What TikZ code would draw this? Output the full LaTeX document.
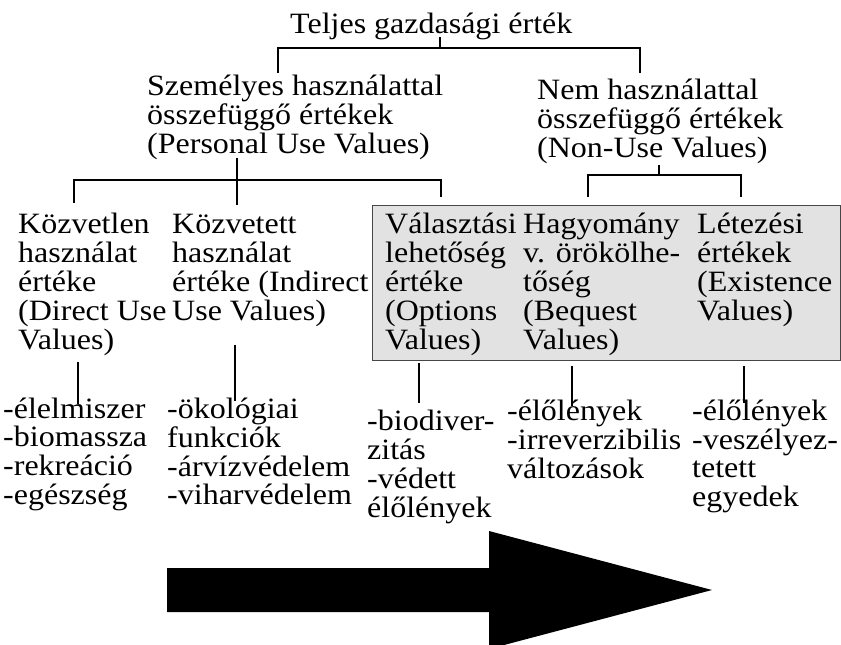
\documentclass[tikz,border=0pt]{standalone}
\usepackage{fontspec}
\setmainfont{Liberation Serif}[FakeStretch=1.085]
\newcommand\mlines[1]{\begin{tabular}[t]{@{}l@{}}#1\end{tabular}}
\definecolor{boxfill}{RGB}{226,226,226}
\definecolor{boxline}{RGB}{70,70,70}
\begin{document}
\begin{tikzpicture}[x=1pt,y=-1pt,
  txt/.style={font=\fontsize{29.5}{#1}\selectfont, inner sep=0pt, anchor=base west},
  txt/.default=28.5,
  conn/.style={line width=1.4pt, black},
  greybox/.style={draw=boxline, fill=boxfill, line width=1.3pt, anchor=north west, inner sep=0pt}]
\useasboundingbox (0,0) rectangle (841,645);
\fill[white] (0,0) rectangle (841,645);

% grey box
\node[greybox, minimum width=468pt, minimum height=155pt] (box) at (372,205) {};

% texts
\node[txt] (title) at (290,33) {Teljes gazdasági érték};
\node[txt=28] (pers) at (147,95) {\mlines{Személyes használattal\\összefüggő értékek\\(Personal Use Values)}};
\node[txt=29] (nonuse) at (537,99) {\mlines{Nem használattal\\összefüggő értékek\\(Non-Use Values)}};

\node[txt] (direct) at (18,233) {\mlines{Közvetlen\\használat\\értéke\\(Direct Use\\Values)}};
\node[txt] (indirect) at (172,233) {\mlines{Közvetett\\használat\\értéke (Indirect\\Use Values)}};
\node[txt] (option) at (385,233) {\mlines{Választási\\lehetőség\\értéke\\(Options\\Values)}};
\node[txt] (bequest) at (523,233) {\mlines{Hagyomány\\v. örökölhe-\\tőség\\(Bequest\\Values)}};
\node[txt] (exist) at (697,233) {\mlines{Létezési\\értékek\\(Existence\\Values)}};

\node[txt=28] (listA) at (3,418) {\mlines{-élelmiszer\\-biomassza\\-rekreáció\\-egészség}};
\node[txt=28] (listB) at (167,418) {\mlines{-ökológiai\\funkciók\\-árvízvédelem\\-viharvédelem}};
\node[txt=28.5] (listC) at (367,430) {\mlines{-biodiver-\\zitás\\-védett\\élőlények}};
\node[txt=28.5] (listD) at (507,420) {\mlines{-élőlények\\-irreverzibilis\\változások}};
\node[txt=28.5] (listE) at (692,420) {\mlines{-élőlények\\-veszélyez-\\tetett\\egyedek}};

% connector points
\coordinate (t0) at (440,37);
\coordinate (t1) at (440,48);
\coordinate (tL) at (278,48);
\coordinate (tR) at (640,48);
\coordinate (pTop) at (278,73);
\coordinate (nTop) at (640,73);

\coordinate (p0) at (237,158);
\coordinate (hL) at (74,180);
\coordinate (hR) at (441,180);
\coordinate (dTop) at (74,203);
\coordinate (iTop) at (237,205);
\coordinate (oTop) at (441,197);

\coordinate (n0) at (659,165);
\coordinate (n1) at (659,175);
\coordinate (hL2) at (588,175);
\coordinate (hR2) at (741,175);
\coordinate (bTop) at (588,197);
\coordinate (eTop) at (741,197);

\coordinate (dA) at (78,362);  \coordinate (dB) at (78,404);
\coordinate (iA) at (235,345); \coordinate (iB) at (235,401);
\coordinate (oA) at (419,363); \coordinate (oB) at (419,403);
\coordinate (bA) at (572,366); \coordinate (bB) at (572,406);
\coordinate (eA) at (744,366); \coordinate (eB) at (744,403);

% connectors
\draw[conn] (t0) -- (t1);
\draw[conn] (pTop) -- (tL) -- (tR) -- (nTop);
\draw[conn] (p0) -- (iTop);
\draw[conn] (dTop) -- (hL) -- (hR) -- (oTop);
\draw[conn] (n0) -- (n1);
\draw[conn] (bTop) -- (hL2) -- (hR2) -- (eTop);
\draw[conn] (dA) -- (dB);
\draw[conn] (iA) -- (iB);
\draw[conn] (oA) -- (oB);
\draw[conn] (bA) -- (bB);
\draw[conn] (eA) -- (eB);

% big arrow
\fill[black] (167,568) -- (489,568) -- (489,531) -- (712,590) -- (489,649) -- (489,612) -- (167,612) -- cycle;
\end{tikzpicture}
\end{document}
